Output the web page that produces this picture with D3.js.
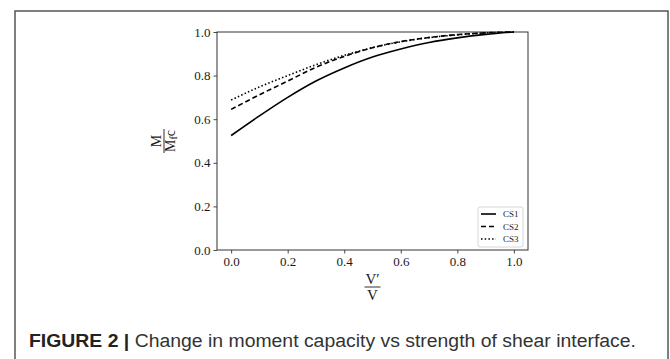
<!DOCTYPE html>
<html>
<head>
<meta charset="utf-8">
<script src="https://cdn.jsdelivr.net/npm/d3@7"></script>
<style>
  body { margin: 0; background: #fff; }
  svg { display: block; }
</style>
</head>
<body>
<script>
// 画布尺寸
var w = 670;
var h = 359;

// 数据：横坐标 V'/V 与三条曲线 M/Mfc
var ratios = [0, 0.1, 0.2, 0.3, 0.4, 0.5, 0.6, 0.7, 0.8, 0.9, 1.0];
var cs1 = [0.525, 0.615, 0.700, 0.775, 0.835, 0.885, 0.922, 0.952, 0.973, 0.989, 1.0];
var cs2 = [0.645, 0.712, 0.775, 0.838, 0.888, 0.928, 0.956, 0.975, 0.988, 0.996, 1.0];
var cs3 = [0.688, 0.748, 0.800, 0.850, 0.893, 0.928, 0.955, 0.974, 0.987, 0.996, 1.0];
var seriesNames = ["CS1", "CS2", "CS3"];
var dashes = ["none", "5,3", "1.5,2.2"];
var xTicks = [0, 0.2, 0.4, 0.6, 0.8, 1.0];
var yTicks = [0, 0.2, 0.4, 0.6, 0.8, 1.0];
var captionBold = "FIGURE 2 | ";
var captionText = "Change in moment capacity vs strength of shear interface.";

var series = [cs1, cs2, cs3].map(function (vals, i) {
  return {
    name: seriesNames[i],
    dash: dashes[i],
    points: ratios.map(function (r, j) { return { x: r, y: vals[j] }; })
  };
});

var svg = d3.select("body").append("svg").attr("width", w).attr("height", h);

// 外框
svg.append("rect")
  .attr("x", 15).attr("y", 11)
  .attr("width", 653).attr("height", 360)
  .attr("fill", "none")
  .attr("stroke", "#555")
  .attr("stroke-width", 1.5);

// 绘图区（注意不能用全局变量名 top）
var pLeft = 217, pRight = 528, pTop = 32, pBottom = 250;
var serif = "'Liberation Serif', 'DejaVu Serif', serif";

var xScale = d3.scaleLinear().domain([-0.05, 1.05]).range([pLeft, pRight]);
var yScale = d3.scaleLinear().domain([0, 1]).range([pBottom, pTop]);

var xAxis = d3.axisBottom(xScale).tickValues(xTicks).tickSize(3.5).tickPadding(3)
  .tickFormat(d3.format(".1f"));
var yAxis = d3.axisLeft(yScale).tickValues(yTicks).tickSize(3.5).tickPadding(3)
  .tickFormat(d3.format(".1f"));

var gx = svg.append("g")
  .attr("transform", "translate(0," + pBottom + ")")
  .call(xAxis);
var gy = svg.append("g")
  .attr("transform", "translate(" + pLeft + ",0)")
  .call(yAxis);

[gx, gy].forEach(function (g) {
  g.select(".domain").remove();
  g.selectAll("line").attr("stroke", "#333").attr("stroke-width", 0.9);
  g.selectAll("text")
    .attr("font-family", serif)
    .attr("font-size", 13)
    .attr("fill", "#1a1a1a");
});

// 四边框
svg.append("rect")
  .attr("x", pLeft).attr("y", pTop)
  .attr("width", pRight - pLeft).attr("height", pBottom - pTop)
  .attr("fill", "none")
  .attr("stroke", "#333")
  .attr("stroke-width", 1);

// 曲线
var line = d3.line()
  .x(function (d) { return xScale(d.x); })
  .y(function (d) { return yScale(d.y); })
  .curve(d3.curveMonotoneX);

svg.selectAll(".curve")
  .data(series)
  .enter()
  .append("path")
  .attr("class", "curve")
  .attr("d", function (d) { return line(d.points); })
  .attr("fill", "none")
  .attr("stroke", "#000")
  .attr("stroke-width", 1.6)
  .attr("stroke-dasharray", function (d) { return d.dash; });

// 图例
var legend = svg.append("g").attr("transform", "translate(478,207)");
legend.append("rect")
  .attr("width", 45).attr("height", 40)
  .attr("rx", 2)
  .attr("fill", "#fff")
  .attr("stroke", "#ccc")
  .attr("stroke-width", 0.8);
var item = legend.selectAll(".item")
  .data(series)
  .enter()
  .append("g")
  .attr("class", "item")
  .attr("transform", function (d, i) { return "translate(0," + (7 + i * 12.5) + ")"; });
item.append("line")
  .attr("x1", 3).attr("x2", 18)
  .attr("stroke", "#000").attr("stroke-width", 1.6)
  .attr("stroke-dasharray", function (d) { return d.dash; });
item.append("text")
  .attr("x", 25).attr("y", 3)
  .attr("font-family", serif)
  .attr("font-size", 9)
  .attr("fill", "#1a1a1a")
  .text(function (d) { return d.name; });

// y 轴标签：M / M_fc（旋转）
var cx = (pLeft + pRight) / 2, cy = (pTop + pBottom) / 2;
var yl = svg.append("g").attr("transform", "translate(164," + cy + ") rotate(-90)");
yl.append("text")
  .attr("text-anchor", "middle").attr("y", -3)
  .attr("font-family", serif).attr("font-size", 14).attr("fill", "#1a1a1a")
  .text("M");
yl.append("line")
  .attr("x1", -12).attr("x2", 12).attr("y1", 0).attr("y2", 0)
  .attr("stroke", "#1a1a1a").attr("stroke-width", 0.9);
var ylDen = yl.append("text")
  .attr("text-anchor", "middle").attr("y", 11)
  .attr("font-family", serif).attr("font-size", 14).attr("fill", "#1a1a1a");
ylDen.append("tspan").text("M");
ylDen.append("tspan").attr("font-size", 10).attr("dy", 2).text("f");
ylDen.append("tspan").attr("dy", -2).text("c");

// x 轴标签：V' / V
var xl = svg.append("g").attr("transform", "translate(" + cx + ",287)");
xl.append("text")
  .attr("text-anchor", "middle").attr("y", -3)
  .attr("font-family", serif).attr("font-size", 15).attr("fill", "#1a1a1a")
  .text("V\u2032");
xl.append("line")
  .attr("x1", -8).attr("x2", 8)
  .attr("stroke", "#1a1a1a").attr("stroke-width", 0.9);
xl.append("text")
  .attr("text-anchor", "middle").attr("y", 13)
  .attr("font-family", serif).attr("font-size", 15).attr("fill", "#1a1a1a")
  .text("V");

// 图注
var cap = svg.append("text")
  .attr("x", 29).attr("y", 347)
  .attr("font-family", "'Liberation Sans', Arial, sans-serif")
  .attr("font-size", 18)
  .attr("fill", "#333");
cap.append("tspan").attr("font-weight", "bold").attr("fill", "#222").text(captionBold);
cap.append("tspan").text(captionText);
cap.attr("textLength", 607).attr("lengthAdjust", "spacingAndGlyphs");
</script>
</body>
</html>
